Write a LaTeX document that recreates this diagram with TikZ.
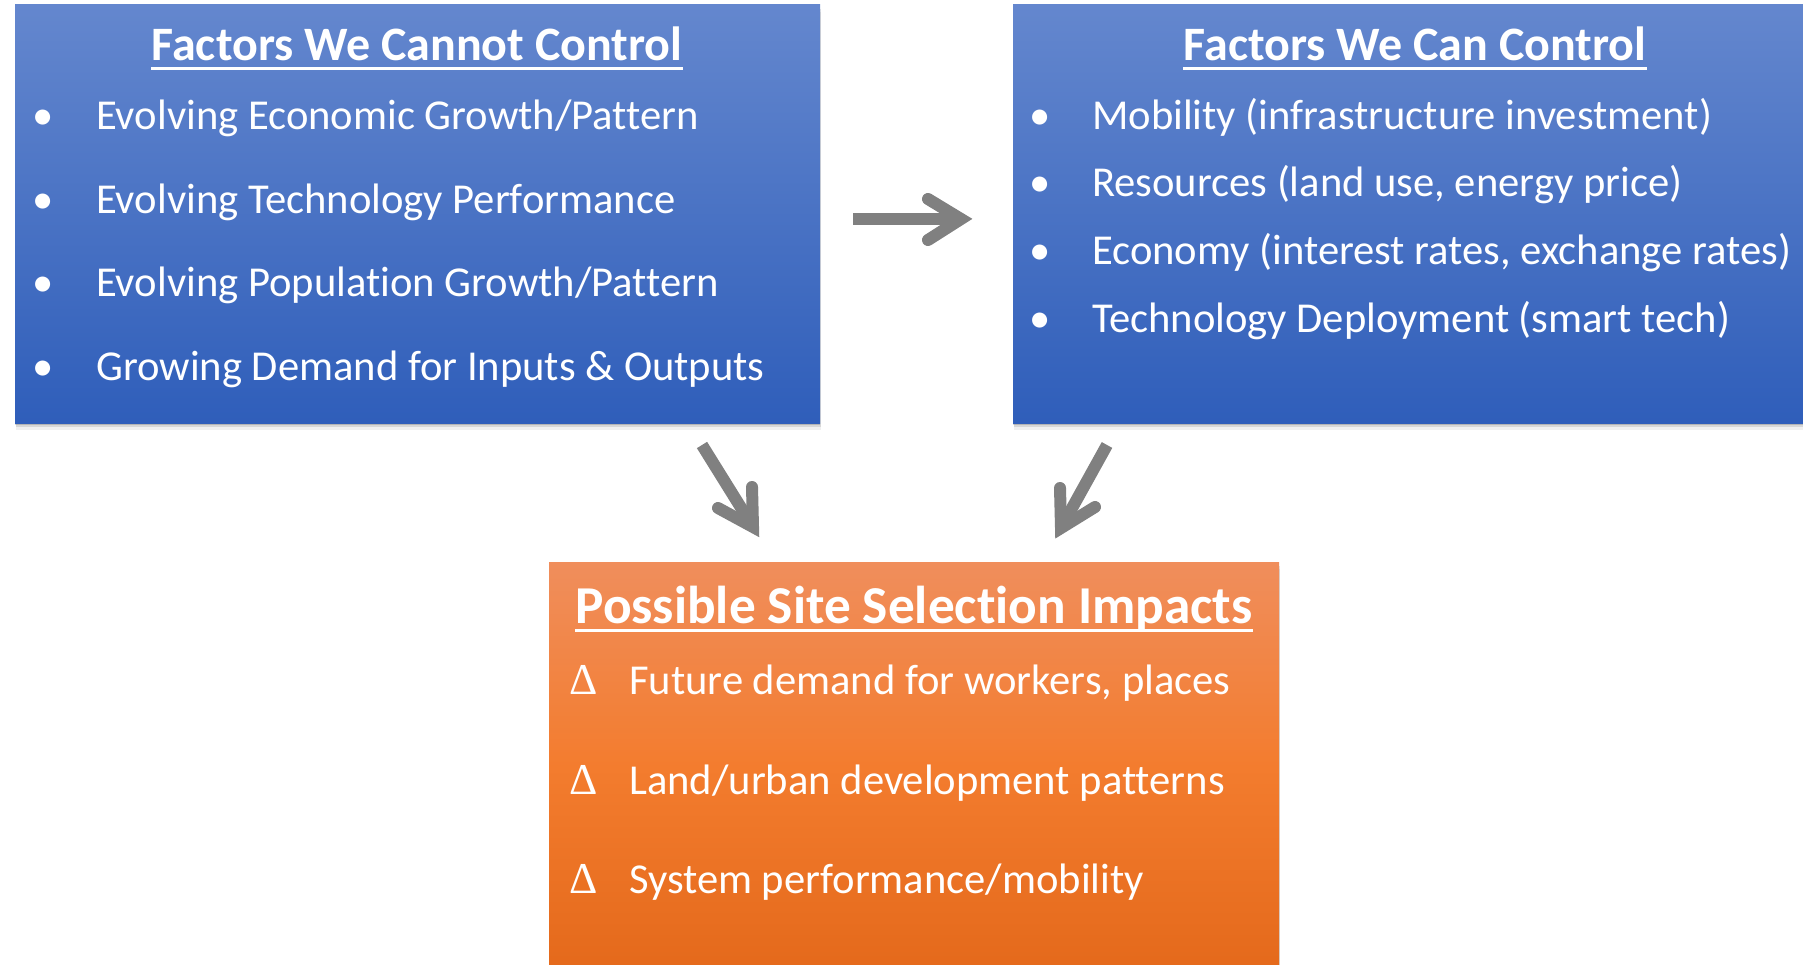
\documentclass[tikz,border=0pt]{standalone}
\usepackage{fontspec}
\setmainfont{Carlito}[Ligatures=NoCommon]
\newfontfamily\deltafont{Liberation Serif}
\usetikzlibrary{shadows}
\definecolor{bluetop}{HTML}{6487CE}
\definecolor{bluebot}{HTML}{2F5EBA}
\definecolor{orangetop}{HTML}{F08E5C}
\definecolor{orangemid}{HTML}{F37C2E}
\definecolor{orangebot}{HTML}{E4691B}
\definecolor{arrowgray}{HTML}{808080}
\begin{document}
\begin{tikzpicture}[x=1pt,y=-1pt,
  softshadow/.style={
    drop shadow={shadow xshift=0pt,shadow yshift=-2pt,opacity=0.16,fill=black},
    drop shadow={shadow xshift=0.5pt,shadow yshift=-4pt,opacity=0.10,fill=black},
    drop shadow={shadow xshift=1pt,shadow yshift=-7pt,opacity=0.06,fill=black}},
  box/.style={rectangle, inner sep=0pt, outer sep=0pt, anchor=north west, softshadow},
  bluebox/.style={box, top color=bluetop, bottom color=bluebot},
  orangebox/.style={box, top color=orangetop, bottom color=orangebot, middle color=orangemid},
  title/.style={anchor=base, inner sep=0pt, text=white, font=\bfseries\fontsize{48}{58}\selectfont},
  item/.style={anchor=base west, inner sep=0pt, text=white, font=\fontsize{42.6}{51}\selectfont},
  uline/.style={draw=white, line width=2.8pt},
  shaft/.style={draw=arrowgray, line width=12pt, line cap=butt},
  head/.style={draw=arrowgray, line width=12pt, line cap=round, line join=miter}
]
\clip (0,0) rectangle (1803,965);
\fill[white] (0,0) rectangle (1803,965);

% boxes
\node[bluebox, minimum width=805pt, minimum height=418pt] (L) at (15,5) {};
\node[bluebox, minimum width=820pt, minimum height=418pt] (R) at (1013,5) {};
\node[orangebox, minimum width=730pt, minimum height=410pt] (B) at (549,562) {};

% left box text
\node[title] (Lt) at (417,61) {Factors We Cannot Control};
\draw[uline] ([yshift=-7.7pt]Lt.base west) -- ([yshift=-7.7pt]Lt.base east);
\node[item] (L1) at (32,130) {\makebox[64pt][l]{•}Evolving Economic Growth/Pattern};
\node[item] (L2) at (32,214) {\makebox[64pt][l]{•}Evolving Technology Performance};
\node[item] (L3) at (32,297) {\makebox[64pt][l]{•}Evolving Population Growth/Pattern};
\node[item] (L4) at (32,380) {\makebox[64pt][l]{•}Growing Demand for Inputs \& Outputs};

% right box text
\node[title] (Rt) at (1415,61) {Factors We Can Control};
\draw[uline] ([yshift=-7.7pt]Rt.base west) -- ([yshift=-7.7pt]Rt.base east);
\node[item] (R1) at (1029,130) {\makebox[63pt][l]{•}Mobility (infrastructure investment)};
\node[item] (R2) at (1029,197) {\makebox[63pt][l]{•}Resources (land use, energy price)};
\node[item] (R3) at (1029,265) {\makebox[63pt][l]{•}Economy (interest rates, exchange rates)};
\node[item] (R4) at (1029,332) {\makebox[63pt][l]{•}Technology Deployment (smart tech)};

% bottom box text
\node[title, font=\bfseries\fontsize{53.3}{63}\selectfont] (Bt) at (914,623) {Possible Site Selection Impacts};
\draw[uline] ([yshift=-7.8pt]Bt.base west) -- ([yshift=-7.8pt]Bt.base east);
\node[item] (B1) at (569,694) {\makebox[60pt][l]{\deltafont\fontsize{44}{51}\selectfont Δ}Future demand for workers, places};
\node[item] (B2) at (569,794) {\makebox[60pt][l]{\deltafont\fontsize{44}{51}\selectfont Δ}Land/urban development patterns};
\node[item] (B3) at (569,893) {\makebox[60pt][l]{\deltafont\fontsize{44}{51}\selectfont Δ}System performance/mobility};

% arrows
\coordinate (a1s) at (853,219);
\coordinate (a1t) at (961,219);
\coordinate (a1u) at (928,199);
\coordinate (a1d) at (928,240);
\draw[shaft] (a1s) -- (a1t);
\draw[head] (a1u) -- (a1t) -- (a1d);

\coordinate (a2s) at (702,445);
\coordinate (a2t) at (753,527);
\coordinate (a2u) at (752,487);
\coordinate (a2d) at (718,508);
\draw[shaft] (a2s) -- (a2t);
\draw[head] (a2u) -- (a2t) -- (a2d);

\coordinate (a3s) at (1107,445);
\coordinate (a3t) at (1061,528);
\coordinate (a3u) at (1060,488);
\coordinate (a3d) at (1095,507);
\draw[shaft] (a3s) -- (a3t);
\draw[head] (a3u) -- (a3t) -- (a3d);
\end{tikzpicture}
\end{document}
